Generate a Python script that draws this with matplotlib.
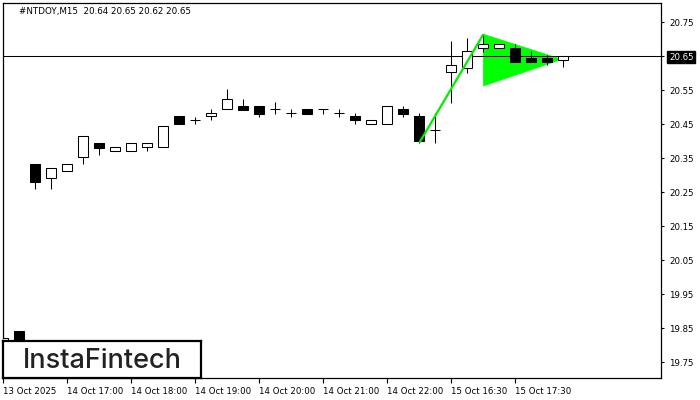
import matplotlib
matplotlib.use("Agg")
import matplotlib.pyplot as plt
from matplotlib.patches import Rectangle, Polygon

# ---- data ----
title_text = "#NTDOY,M15  20.64 20.65 20.62 20.65"
opens  = [19.815, 19.842, 20.333, 20.293, 20.312, 20.353, 20.395, 20.372, 20.372, 20.382,
          20.382, 20.474, 20.463, 20.474, 20.494, 20.505, 20.505, 20.494, 20.482, 20.494,
          20.494, 20.482, 20.474, 20.452, 20.452, 20.495, 20.474, 20.432, 20.603, 20.615,
          20.674, 20.674, 20.674, 20.645, 20.645, 20.64]
highs  = [19.823, 19.842, 20.333, 20.323, 20.332, 20.415, 20.395, 20.382, 20.395, 20.395,
          20.445, 20.474, 20.472, 20.494, 20.553, 20.524, 20.505, 20.516, 20.494, 20.494,
          20.494, 20.494, 20.484, 20.464, 20.503, 20.505, 20.482, 20.482, 20.695, 20.703,
          20.715, 20.685, 20.686, 20.665, 20.654, 20.65]
lows   = [19.815, 19.816, 20.261, 20.261, 20.312, 20.332, 20.361, 20.372, 20.372, 20.372,
          20.382, 20.452, 20.452, 20.464, 20.494, 20.493, 20.472, 20.481, 20.472, 20.481,
          20.481, 20.472, 20.452, 20.452, 20.452, 20.472, 20.396, 20.394, 20.514, 20.602,
          20.664, 20.674, 20.634, 20.634, 20.624, 20.62]
closes = [19.823, 19.816, 20.281, 20.323, 20.332, 20.415, 20.381, 20.382, 20.395, 20.395,
          20.445, 20.452, 20.463, 20.482, 20.524, 20.493, 20.481, 20.494, 20.482, 20.481,
          20.494, 20.482, 20.464, 20.464, 20.503, 20.481, 20.402, 20.432, 20.624, 20.665,
          20.685, 20.685, 20.634, 20.634, 20.634, 20.65]

x_tick_pos = [0, 4, 8, 12, 16, 20, 24, 28, 32]
x_tick_labels = ["13 Oct 2025", "14 Oct 17:00", "14 Oct 18:00", "14 Oct 19:00", "14 Oct 20:00",
                 "14 Oct 21:00", "14 Oct 22:00", "15 Oct 16:30", "15 Oct 17:30"]
y_ticks = [19.75, 19.85, 19.95, 20.05, 20.15, 20.25, 20.35, 20.45, 20.55, 20.65, 20.75]
y_tick_labels = ["19.75", "19.85", "19.95", "20.05", "20.15", "20.25", "20.35", "20.45",
                 "20.55", "20.65", "20.75"]
current_price = 20.65

# pennant pattern (bar index, price)
pole_x = [26, 30]
pole_y = [20.396, 20.715]
flag_x = [30, 34.9, 30]
flag_y = [20.715, 20.641, 20.563]

# ---- figure ----
fig = plt.figure(figsize=(7, 4), dpi=100)
ax = fig.add_axes([3/700, 1 - 378.3/400, (661 - 3)/700, (378.3 - 3.3)/400])
ax.set_xlim(-0.02, 41.1)
ax.set_ylim(19.703, 20.806)

for s in ax.spines.values():
    s.set_linewidth(0.9)
    s.set_color("black")

lw = 0.75
bw = 0.62
# current price line
ax.axhline(current_price, color="black", lw=lw, zorder=2)

# pennant triangle
ax.add_patch(Polygon(list(zip(flag_x, flag_y)), closed=True, facecolor="#00ff00",
                     edgecolor="#00ff00", lw=0.5, zorder=1))

for i, (o, h, l, c) in enumerate(zip(opens, highs, lows, closes)):
    ax.vlines(i, l, h, color="black", lw=lw, zorder=3)
    fc = "white" if c >= o else "black"
    ax.add_patch(Rectangle((i - bw/2, min(o, c)), bw, abs(c - o), facecolor=fc,
                           edgecolor="black", lw=lw, zorder=4))

ax.plot(pole_x, pole_y, color="#00ee00", lw=1.6, zorder=5, solid_capstyle="butt")

# axes ticks
ax.yaxis.tick_right()
ax.set_yticks(y_ticks)
ax.set_yticklabels(y_tick_labels)
ax.tick_params(axis="y", direction="out", length=2.3, width=0.8, pad=3.5,
               labelsize=6.2, colors="black")
for lbl in ax.get_yticklabels():
    lbl.set_fontfamily("DejaVu Sans")
    if lbl.get_text() == "20.65":
        lbl.set_color("white")
        lbl.set_bbox(dict(facecolor="black", edgecolor="black", pad=1.2))

ax.set_xticks(x_tick_pos)
ax.set_xticklabels(x_tick_labels, ha="left")
ax.tick_params(axis="x", direction="out", length=3.6, width=0.8, pad=2.5,
               labelsize=6.2, colors="black")
for lbl in ax.get_xticklabels():
    lbl.set_fontfamily("DejaVu Sans")

# title
fig.text(19/700, 1 - 11.5/400, title_text, fontsize=6.3, family="DejaVu Sans",
         va="center", ha="left", color="black")

# logo
logo_ax = fig.add_axes([3/700, 1 - 378.3/400, 198/700, 37/400])
logo_ax.set_xticks([])
logo_ax.set_yticks([])
logo_ax.set_facecolor("white")
for s in logo_ax.spines.values():
    s.set_linewidth(1.6)
    s.set_color("black")
logo_ax.text(0.5, 0.47, "InstaFintech", transform=logo_ax.transAxes, ha="center",
             va="center", fontsize=19.5, family="Inter", fontweight="medium",
             color="#222222")

fig.savefig("out.png", dpi=100)
